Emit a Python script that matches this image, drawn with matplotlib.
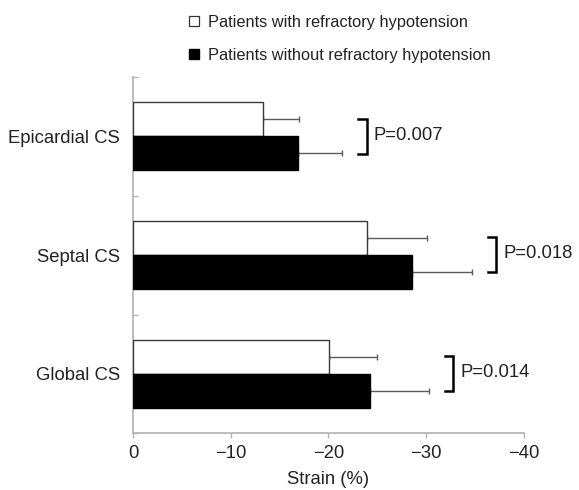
import matplotlib
matplotlib.use('Agg')
from matplotlib import pyplot as plt
from matplotlib.lines import Line2D
import numpy as np

plt.rcParams['font.family'] = ['Liberation Sans', 'DejaVu Sans']

### Data (strain, %)
regions = ['Epicardial CS', 'Septal CS', 'Global CS']
with_hypo = [-13.3, -23.9, -20.1]
with_hypo_sd = [3.7, 6.2, 4.9]
without_hypo = [-16.9, -28.6, -24.3]
without_hypo_sd = [4.5, 6.1, 6.0]
p_values = ['P=0.007', 'P=0.018', 'P=0.014']
legend_labels = ['Patients with refractory hypotension',
                 'Patients without refractory hypotension']
xticks = [0, -10, -20, -30, -40]

### Figure
fig = plt.figure(figsize=(5.79, 4.90), dpi=100)
ax = fig.add_axes([0.2302, 0.1157, 0.6743, 0.7272])

ypos = np.arange(len(regions))[::-1]
h = 0.286
grey = '#b0b0b0'
err_clr = '#5a5a5a'
txt_clr = '#222222'

ax.barh(ypos + h / 2, with_hypo, height=h, color='white', edgecolor='#3a3a3a',
        linewidth=1.0, zorder=3)
ax.barh(ypos - h / 2, without_hypo, height=h, color='black', edgecolor='black',
        linewidth=1.0, zorder=3)

ax.errorbar(with_hypo, ypos + h / 2, xerr=[with_hypo_sd, np.zeros(3)], fmt='none',
            ecolor=err_clr, elinewidth=1.0, capsize=2.2, capthick=1.0, zorder=2)
ax.errorbar(without_hypo, ypos - h / 2, xerr=[without_hypo_sd, np.zeros(3)], fmt='none',
            ecolor=err_clr, elinewidth=1.0, capsize=2.2, capthick=1.0, zorder=2)

# significance brackets
for i, y in enumerate(ypos):
    ends = min(with_hypo[i] - with_hypo_sd[i], without_hypo[i] - without_hypo_sd[i])
    bx = ends - 2.5
    ax.plot([bx + 0.9, bx, bx, bx + 0.9], [y + 0.15, y + 0.15, y - 0.145, y - 0.145],
            color='black', linewidth=1.8, solid_joinstyle='miter', zorder=4)
    ax.text(bx - 0.7, y + 0.01, p_values[i], fontsize=13.3, color=txt_clr,
            ha='left', va='center')

ax.set_xlim(0, -40)
ax.set_ylim(-0.5, 2.5)
ax.set_xticks(xticks)
ax.set_xticklabels(['0', '\u221210', '\u221220', '\u221230', '\u221240'])
ax.set_yticks(ypos)
ax.set_yticklabels(regions)
ax.set_yticks([-0.5, 0.5, 1.5, 2.5], minor=True)

ax.tick_params(axis='x', labelsize=13.3, colors=grey, labelcolor=txt_clr,
               length=3.6, width=1.0, pad=5)
ax.tick_params(axis='y', which='major', labelsize=13.3, labelcolor=txt_clr,
               length=0, pad=9.4)
ax.tick_params(axis='y', which='minor', direction='in', length=3.6, width=1.0,
               colors=grey)

for s in ['top', 'right']:
    ax.spines[s].set_visible(False)
for s in ['left', 'bottom']:
    ax.spines[s].set_color(grey)
    ax.spines[s].set_linewidth(1.2)

ax.set_xlabel('Strain (%)', fontsize=13.3, color=txt_clr, labelpad=6)

# legend
handles = [Line2D([], [], marker='s', linestyle='', markersize=7.5,
                  markerfacecolor='white', markeredgecolor='#333333', markeredgewidth=0.9),
           Line2D([], [], marker='s', linestyle='', markersize=7.5,
                  markerfacecolor='black', markeredgecolor='black')]
fig.legend(handles, legend_labels, loc='upper left', bbox_to_anchor=(0.299, 1.0),
           frameon=False, fontsize=11.8, labelspacing=1.12, handlelength=0.8,
           handletextpad=0.45, labelcolor=txt_clr)

plt.savefig('out.png', dpi=100)
